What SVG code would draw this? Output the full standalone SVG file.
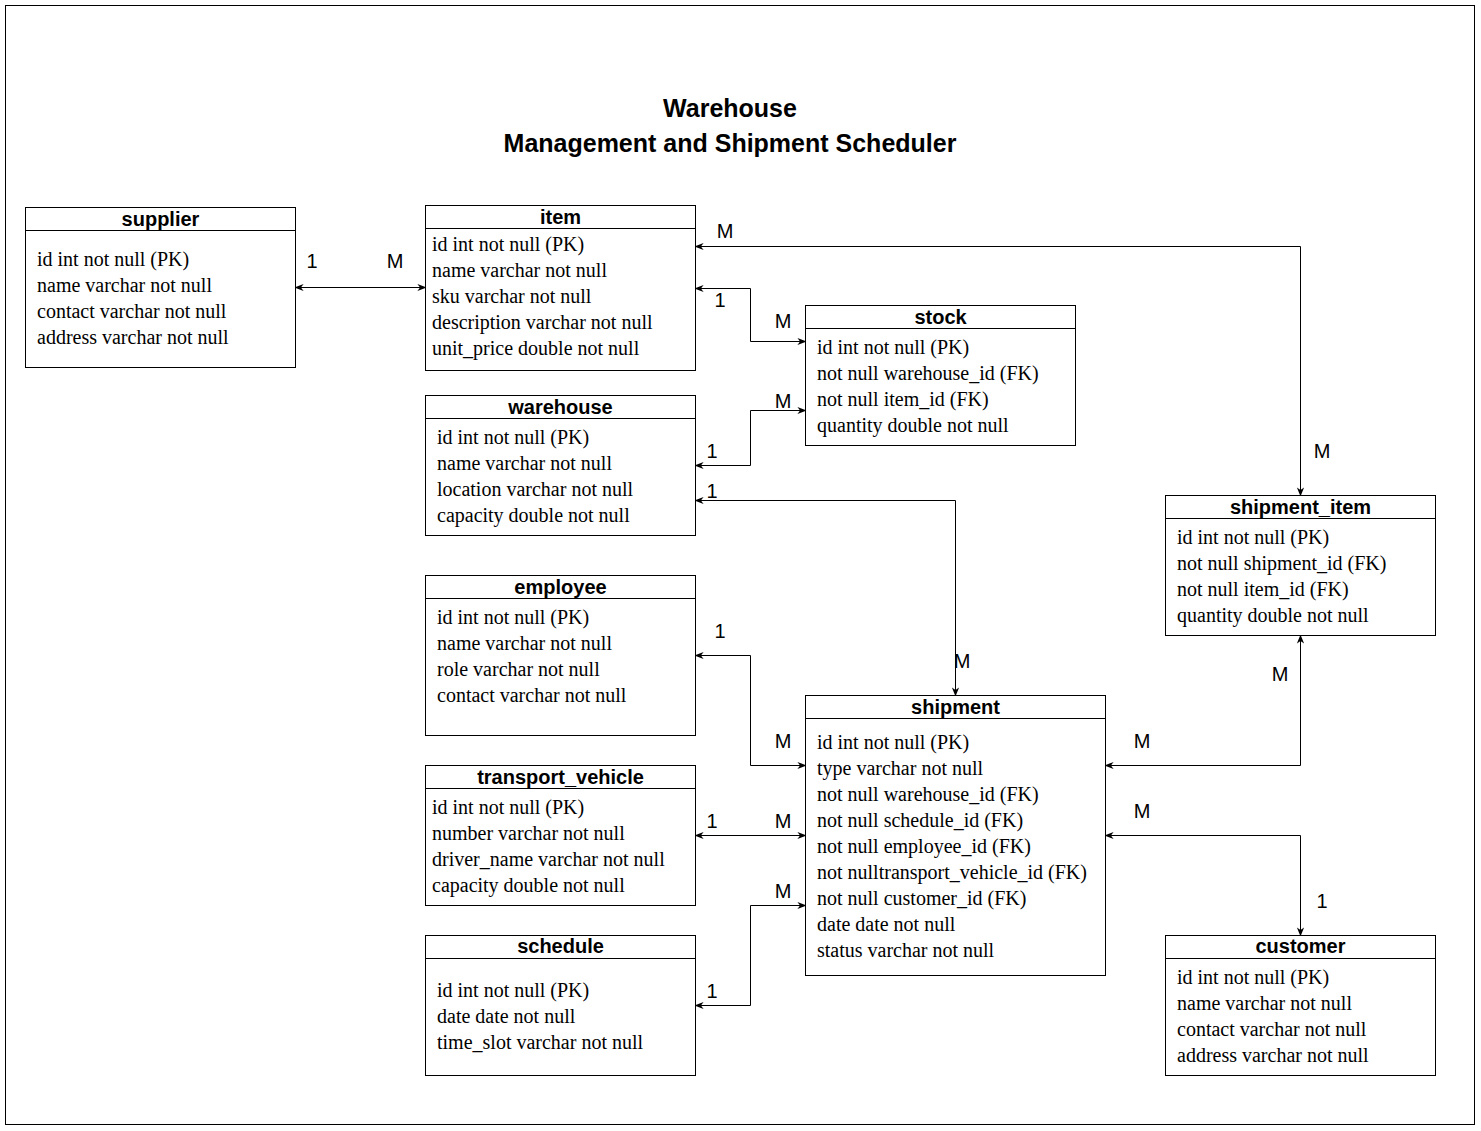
<svg xmlns="http://www.w3.org/2000/svg" width="1481" height="1131" viewBox="0 0 1481 1131">
<style>
.box{fill:#fff;stroke:#000;stroke-width:1}
.hd{font-family:"Liberation Sans",Arial,sans-serif;font-weight:bold;font-size:20px;text-anchor:middle}
.rw{font-family:"Liberation Serif","Times New Roman",serif;font-size:20px}
.lb{font-family:"Liberation Sans",Arial,sans-serif;font-size:20px;text-anchor:middle}
.ti{font-family:"Liberation Sans",Arial,sans-serif;font-weight:bold;font-size:25px;text-anchor:middle}
.cn{fill:none;stroke:#000;stroke-width:1;marker-start:url(#a);marker-end:url(#a)}
</style>
<defs>
<marker id="a" viewBox="0 0 10 10" refX="9" refY="5" markerWidth="9" markerHeight="9" orient="auto-start-reverse" markerUnits="userSpaceOnUse">
<path d="M0,1 L10,5 L0,9 L3,5 z" fill="#000"/>
</marker>
</defs>
<rect x="0" y="0" width="1481" height="1131" fill="#fff"/>
<rect x="5.500" y="5.500" width="1469" height="1119" fill="none" stroke="#000"/>
<g id="title">
<text class="ti" x="730" y="117">Warehouse</text>
<text class="ti" x="730" y="152">Management and Shipment Scheduler</text>
</g>
<g id="connectors">
<path class="cn" d="M295.500,287.500 H425.500"/>
<path class="cn" d="M695.500,246.500 H1300.500 V495.500"/>
<path class="cn" d="M695.500,288.500 H750.500 V341.500 H805.500"/>
<path class="cn" d="M695.500,465.500 H750.500 V410.500 H805.500"/>
<path class="cn" d="M695.500,500.500 H955.500 V695.500"/>
<path class="cn" d="M695.500,655.500 H750.500 V765.500 H805.500"/>
<path class="cn" d="M695.500,835.500 H805.500"/>
<path class="cn" d="M695.500,1005.500 H750.500 V905.500 H805.500"/>
<path class="cn" d="M1105.500,765.500 H1300.500 V635.500"/>
<path class="cn" d="M1105.500,835.500 H1300.500 V935.500"/>
<text class="lb" x="312" y="268">1</text>
<text class="lb" x="395" y="268">M</text>
<text class="lb" x="725" y="238">M</text>
<text class="lb" x="1322" y="458">M</text>
<text class="lb" x="720" y="307">1</text>
<text class="lb" x="783" y="328">M</text>
<text class="lb" x="712" y="458">1</text>
<text class="lb" x="783" y="408">M</text>
<text class="lb" x="712" y="498">1</text>
<text class="lb" x="962" y="668">M</text>
<text class="lb" x="720" y="638">1</text>
<text class="lb" x="783" y="748">M</text>
<text class="lb" x="712" y="828">1</text>
<text class="lb" x="783" y="828">M</text>
<text class="lb" x="712" y="998">1</text>
<text class="lb" x="783" y="898">M</text>
<text class="lb" x="1142" y="748">M</text>
<text class="lb" x="1280" y="681">M</text>
<text class="lb" x="1142" y="818">M</text>
<text class="lb" x="1322" y="908">1</text>
</g>
<g id="supplier">
<rect class="box" x="25.500" y="207.500" width="270" height="160"/>
<line x1="25.500" y1="230.500" x2="295.500" y2="230.500" stroke="#000"/>
<text class="hd" x="160.500" y="226">supplier</text>
<text class="rw" x="37" y="266">id int not null (PK)</text>
<text class="rw" x="37" y="292">name varchar not null</text>
<text class="rw" x="37" y="318">contact varchar not null</text>
<text class="rw" x="37" y="344">address varchar not null</text>
</g>
<g id="item">
<rect class="box" x="425.500" y="205.500" width="270" height="165"/>
<line x1="425.500" y1="228.500" x2="695.500" y2="228.500" stroke="#000"/>
<text class="hd" x="560.500" y="224">item</text>
<text class="rw" x="432" y="251">id int not null (PK)</text>
<text class="rw" x="432" y="277">name varchar not null</text>
<text class="rw" x="432" y="303">sku varchar not null</text>
<text class="rw" x="432" y="329">description varchar not null</text>
<text class="rw" x="432" y="355">unit_price double not null</text>
</g>
<g id="warehouse">
<rect class="box" x="425.500" y="395.500" width="270" height="140"/>
<line x1="425.500" y1="418.500" x2="695.500" y2="418.500" stroke="#000"/>
<text class="hd" x="560.500" y="414">warehouse</text>
<text class="rw" x="437" y="444">id int not null (PK)</text>
<text class="rw" x="437" y="470">name varchar not null</text>
<text class="rw" x="437" y="496">location varchar not null</text>
<text class="rw" x="437" y="522">capacity double not null</text>
</g>
<g id="employee">
<rect class="box" x="425.500" y="575.500" width="270" height="160"/>
<line x1="425.500" y1="598.500" x2="695.500" y2="598.500" stroke="#000"/>
<text class="hd" x="560.500" y="594">employee</text>
<text class="rw" x="437" y="624">id int not null (PK)</text>
<text class="rw" x="437" y="650">name varchar not null</text>
<text class="rw" x="437" y="676">role varchar not null</text>
<text class="rw" x="437" y="702">contact varchar not null</text>
</g>
<g id="transport_vehicle">
<rect class="box" x="425.500" y="765.500" width="270" height="140"/>
<line x1="425.500" y1="788.500" x2="695.500" y2="788.500" stroke="#000"/>
<text class="hd" x="560.500" y="784">transport_vehicle</text>
<text class="rw" x="432" y="814">id int not null (PK)</text>
<text class="rw" x="432" y="840">number varchar not null</text>
<text class="rw" x="432" y="866">driver_name varchar not null</text>
<text class="rw" x="432" y="892">capacity double not null</text>
</g>
<g id="schedule">
<rect class="box" x="425.500" y="935.500" width="270" height="140"/>
<line x1="425.500" y1="958.500" x2="695.500" y2="958.500" stroke="#000"/>
<text class="hd" x="560.500" y="953">schedule</text>
<text class="rw" x="437" y="997">id int not null (PK)</text>
<text class="rw" x="437" y="1023">date date not null</text>
<text class="rw" x="437" y="1049">time_slot varchar not null</text>
</g>
<g id="stock">
<rect class="box" x="805.500" y="305.500" width="270" height="140"/>
<line x1="805.500" y1="328.500" x2="1075.500" y2="328.500" stroke="#000"/>
<text class="hd" x="940.500" y="324">stock</text>
<text class="rw" x="817" y="354">id int not null (PK)</text>
<text class="rw" x="817" y="380">not null warehouse_id (FK)</text>
<text class="rw" x="817" y="406">not null item_id (FK)</text>
<text class="rw" x="817" y="432">quantity double not null</text>
</g>
<g id="shipment">
<rect class="box" x="805.500" y="695.500" width="300" height="280"/>
<line x1="805.500" y1="718.500" x2="1105.500" y2="718.500" stroke="#000"/>
<text class="hd" x="955.500" y="714">shipment</text>
<text class="rw" x="817" y="749">id int not null (PK)</text>
<text class="rw" x="817" y="775">type varchar not null</text>
<text class="rw" x="817" y="801">not null warehouse_id (FK)</text>
<text class="rw" x="817" y="827">not null schedule_id (FK)</text>
<text class="rw" x="817" y="853">not null employee_id (FK)</text>
<text class="rw" x="817" y="879">not nulltransport_vehicle_id (FK)</text>
<text class="rw" x="817" y="905">not null customer_id (FK)</text>
<text class="rw" x="817" y="931">date date not null</text>
<text class="rw" x="817" y="957">status varchar not null</text>
</g>
<g id="shipment_item">
<rect class="box" x="1165.500" y="495.500" width="270" height="140"/>
<line x1="1165.500" y1="518.500" x2="1435.500" y2="518.500" stroke="#000"/>
<text class="hd" x="1300.500" y="514">shipment_item</text>
<text class="rw" x="1177" y="544">id int not null (PK)</text>
<text class="rw" x="1177" y="570">not null shipment_id (FK)</text>
<text class="rw" x="1177" y="596">not null item_id (FK)</text>
<text class="rw" x="1177" y="622">quantity double not null</text>
</g>
<g id="customer">
<rect class="box" x="1165.500" y="935.500" width="270" height="140"/>
<line x1="1165.500" y1="958.500" x2="1435.500" y2="958.500" stroke="#000"/>
<text class="hd" x="1300.500" y="953">customer</text>
<text class="rw" x="1177" y="984">id int not null (PK)</text>
<text class="rw" x="1177" y="1010">name varchar not null</text>
<text class="rw" x="1177" y="1036">contact varchar not null</text>
<text class="rw" x="1177" y="1062">address varchar not null</text>
</g>
</svg>
